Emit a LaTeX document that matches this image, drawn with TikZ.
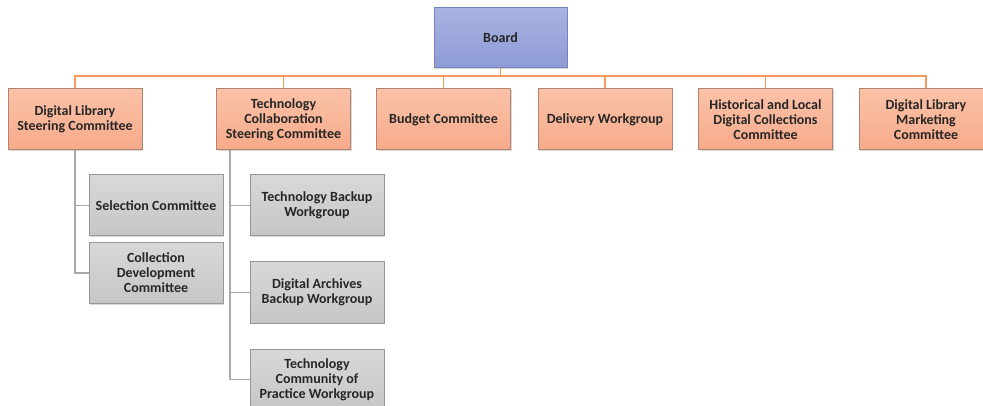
\documentclass[tikz,border=0pt]{standalone}
\usepackage{fontspec}
\setmainfont{Carlito}
\usetikzlibrary{shadows}
\definecolor{otop}{HTML}{FAC2A8}
\definecolor{obot}{HTML}{F7AA8A}
\definecolor{oborder}{HTML}{B08470}
\definecolor{oline}{HTML}{F79A5C}
\definecolor{gtop}{HTML}{D8D8D8}
\definecolor{gbot}{HTML}{C6C6C6}
\definecolor{gborder}{HTML}{969696}
\definecolor{gline}{HTML}{A8A8A8}
\definecolor{btop}{HTML}{A9B4E2}
\definecolor{bbot}{HTML}{8E9BD5}
\definecolor{bborder}{HTML}{7684BE}
\definecolor{txt}{HTML}{262626}
\tikzset{
  box/.style={draw, line width=1pt, minimum width=134pt, minimum height=61pt,
    align=center, inner sep=0pt, text=txt,
    font=\fontsize{14pt}{15pt}\selectfont\bfseries,
    drop shadow={shadow xshift=1pt, shadow yshift=-1pt, opacity=0.3}},
  obox/.style={box, draw=oborder, top color=otop, bottom color=obot},
  gbox/.style={box, draw=gborder, top color=gtop, bottom color=gbot},
  bbox/.style={box, draw=bborder, top color=btop, bottom color=bbot, minimum width=133pt, minimum height=60pt},
  oconn/.style={draw=oline, line width=1.6pt},
  gconn/.style={draw=gline, line width=1.4pt}
}
\begin{document}
\begin{tikzpicture}[x=1pt,y=1pt]
\useasboundingbox (0,0) rectangle (983,-406);
\clip (0,0) rectangle (983,-406);
\fill[white] (0,0) rectangle (983,-406);
% nodes
\node[bbox] (board) at (500.5,-38) {Board};
\node[obox] (b1) at (75,-119.5) {Digital Library\\Steering Committee};
\node[obox] (b2) at (283.5,-119.5) {Technology\\Collaboration\\Steering Committee};
\node[obox] (b3) at (443.5,-119.5) {Budget Committee};
\node[obox] (b4) at (605,-119.5) {Delivery Workgroup};
\node[obox] (b5) at (765.5,-119.5) {Historical and Local\\Digital Collections\\Committee};
\node[obox] (b6) at (926,-119.5) {Digital Library\\Marketing\\Committee};
\node[gbox] (s1) at (156,-205.5) {Selection Committee};
\node[gbox] (s2) at (156,-273) {Collection\\Development\\Committee};
\node[gbox] (t1) at (317,-205.5) {Technology Backup\\Workgroup};
\node[gbox] (t2) at (317,-292.5) {Digital Archives\\Backup Workgroup};
\node[gbox] (t3) at (317,-379.5) {Technology\\Community of\\Practice Workgroup};
% connectors
\coordinate (bus) at (500.5,-76);
\coordinate (tsp) at ([xshift=-53.5pt]b2.south);
\draw[oconn] (board.south) -- (bus);
\foreach \n in {b1,b2,b3,b4,b5,b6}{\draw[oconn] (\n.north) |- (bus);}
\draw[gconn] (b1.south) |- (s1.west);
\draw[gconn] (b1.south) |- (s2.west);
\draw[gconn] (tsp) |- (t1.west);
\draw[gconn] (tsp) |- (t2.west);
\draw[gconn] (tsp) |- (t3.west);
\end{tikzpicture}
\end{document}
